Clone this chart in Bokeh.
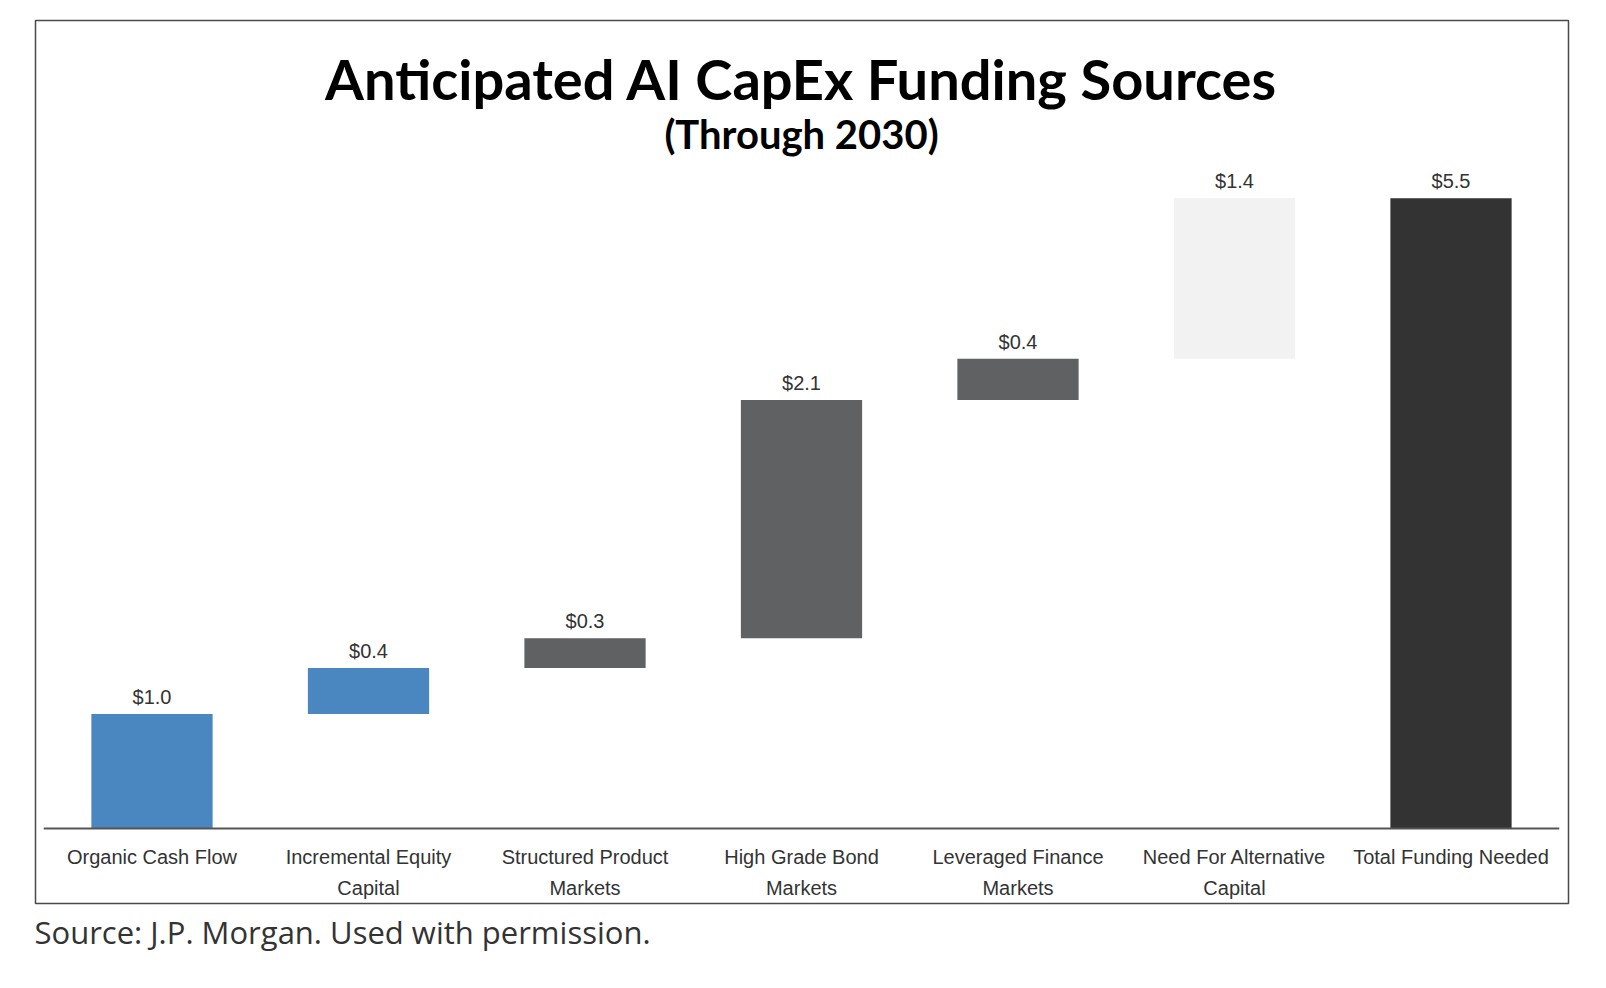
from bokeh.plotting import figure
from bokeh.models import Range1d, ColumnDataSource, Title
from bokeh.core.properties import value
from bokeh.embed import file_html
from bokeh.resources import INLINE

# Funding sources, in trillions of USD
categories = [
    "Organic Cash Flow",
    "Incremental Equity\nCapital",
    "Structured Product\nMarkets",
    "High Grade Bond\nMarkets",
    "Leveraged Finance\nMarkets",
    "Need For Alternative\nCapital",
    "Total Funding Needed",
]
amounts = [1.0, 0.4, 0.26, 2.08, 0.36, 1.40]
total = 5.5
bar_colors = ["#4a86c0", "#4a86c0", "#5f6163", "#5f6163", "#5f6163", "#f2f2f2", "#333333"]

# waterfall stacking: each source starts where the previous one ended
bottoms, tops = [], []
running = 0.0
for a in amounts:
    bottoms.append(running)
    running += a
    tops.append(running)
bottoms.append(0.0)
tops.append(total)
values = amounts + [total]

n = len(categories)
xs = [i + 0.5 for i in range(n)]

src = ColumnDataSource(dict(
    x=xs,
    bottom=bottoms,
    top=tops,
    color=bar_colors,
    label=[f"${v:.1f}" for v in values],
    cat=categories,
))

p = figure(
    width=1606, height=988,
    x_range=Range1d(-0.0381, 7.0427),
    y_range=Range1d(-0.655, 7.052),
    x_axis_type=None, y_axis_type=None,
    output_backend="svg", toolbar_location=None,
    min_border_left=35, min_border_right=38,
    min_border_top=20, min_border_bottom=85,
)
p.grid.visible = False
p.outline_line_color = "#4a4a4a"
p.outline_line_width = 1.5
p.background_fill_color = "white"
p.border_fill_color = "white"

p.vbar(x="x", bottom="bottom", top="top", width=0.56, color="color",
       line_color=None, source=src)

# baseline under the bars
p.segment(x0=[0], y0=[0], x1=[n], y1=[0], line_color="#555555", line_width=2)

# value labels
p.text(x="x", y="top", text="label", source=src,
       text_font=value("Liberation Sans"), text_font_size="20px",
       text_color="#333333", text_align="center", text_baseline="alphabetic",
       y_offset=-17)

# category labels
p.text(x="x", y=0, text="cat", source=src,
       text_font=value("Liberation Sans"), text_font_size="20px",
       text_color="#333333", text_align="center", text_baseline="top",
       text_line_height=1.37, y_offset=18)

# headline and subtitle
p.text(x=[n / 2], y=[6.548], text=["Anticipated AI CapEx Funding Sources"],
       text_font=value("Lato"), text_font_style="bold", text_font_size="56px",
       text_color="#000000", text_align="center", text_baseline="alphabetic")
p.text(x=[n / 2], y=[6.061], text=["(Through 2030)"],
       text_font=value("Lato"), text_font_style="bold", text_font_size="40px",
       text_color="#000000", text_align="center", text_baseline="alphabetic")

p.add_layout(Title(text="Source: J.P. Morgan. Used with permission.",
                   align="left", text_font="Open Sans", text_font_size="31px",
                   text_font_style="normal", text_color="#333333",
                   standoff=10, offset=-1), "below")

open("out.html", "w").write(file_html(p, INLINE))
